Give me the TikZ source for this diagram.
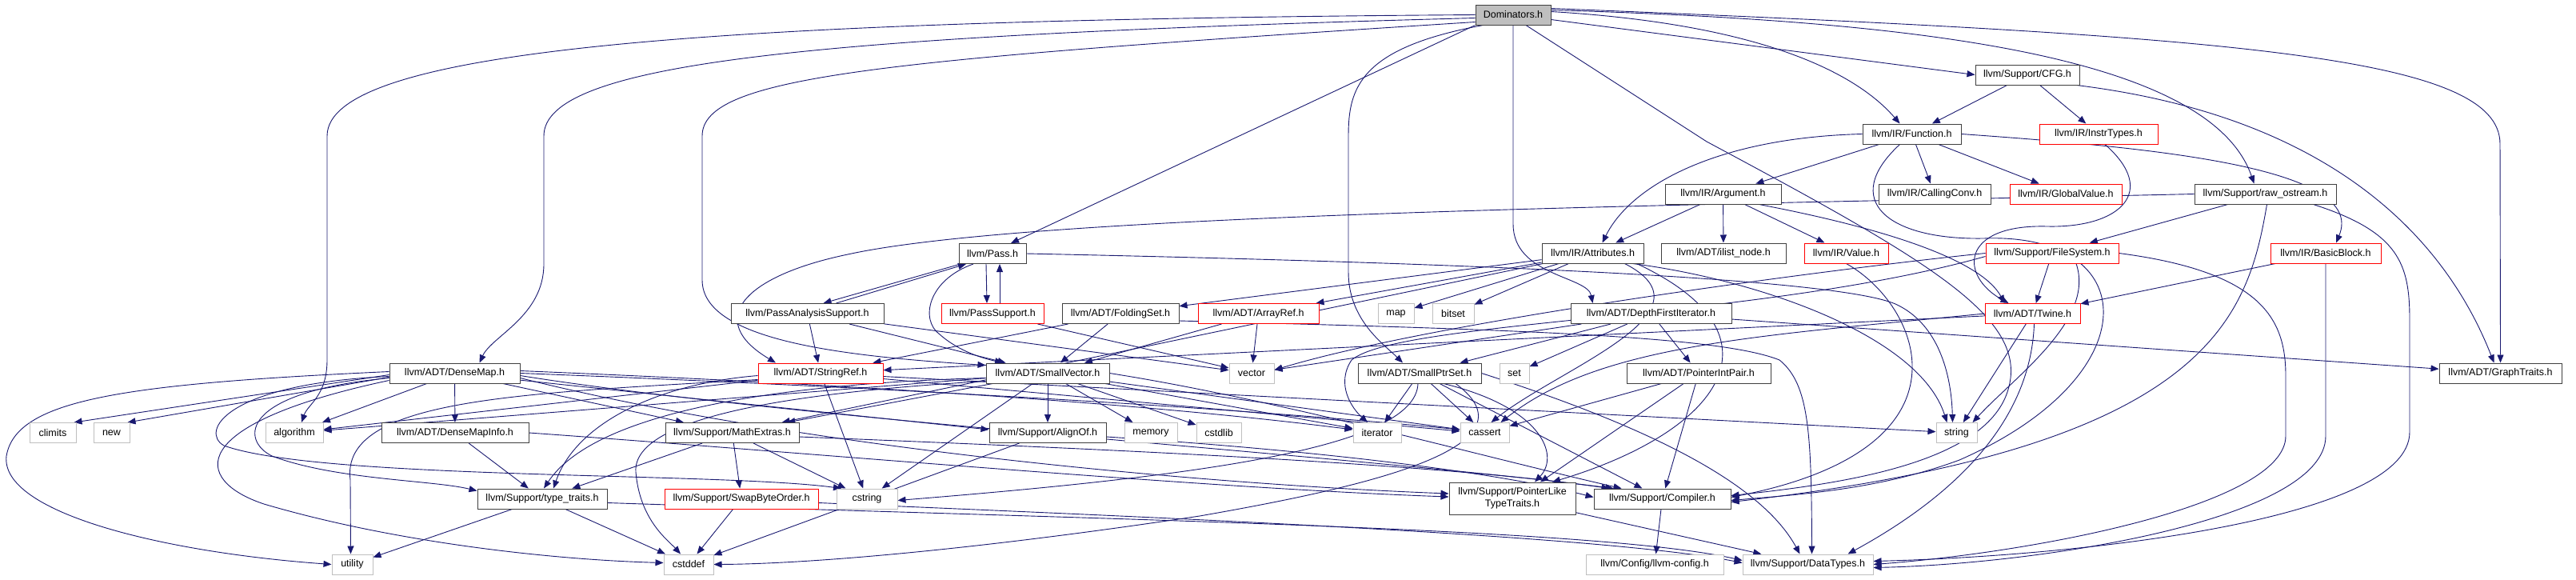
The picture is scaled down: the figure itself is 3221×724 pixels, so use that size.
\documentclass[tikz,border=0pt]{standalone}
\usepackage{fontspec}
\setmainfont{Liberation Sans}
\usetikzlibrary{arrows.meta,backgrounds}
\definecolor{incblue}{RGB}{25,25,112}
\definecolor{boxgray}{RGB}{64,64,64}
\definecolor{sysgray}{RGB}{191,191,191}
\begin{document}
\begin{tikzpicture}[x=1pt, y=-1pt,
  >={Triangle[length=10pt,width=8pt]},
  font=\fontsize{12.5}{15}\selectfont,
  hdr/.style={draw=boxgray, line width=1pt, fill=white, minimum height=25pt, minimum width=#1pt, inner xsep=3pt, inner ysep=1pt},
  part/.style={hdr=#1, draw=red},
  std/.style={hdr=#1, draw=sysgray},
  inc/.style={->, draw=incblue, line width=0.9pt}]
\useasboundingbox (0,0) rectangle (3221,724);
% root and upper rows
\node[hdr=94, fill=sysgray] (dom) at (1892,18.5) {Dominators.h};
\node[hdr=130] (cfg) at (2535,93.5) {llvm/Support/CFG.h};
\node[hdr=123] (func) at (2390.5,167.5) {llvm/IR/Function.h};
\node[part=148] (instr) at (2624,167.5) {llvm/IR/InstrTypes.h};
\node[hdr=145] (arg) at (2154.5,242.5) {llvm/IR/Argument.h};
\node[hdr=140] (cconv) at (2419,242.5) {llvm/IR/CallingConv.h};
\node[part=140] (gval) at (2583,242.5) {llvm/IR/GlobalValue.h};
\node[hdr=177] (rawos) at (2832.5,242.5) {llvm/Support/raw\_ostream.h};
\node[hdr=84] (pass) at (1241,317) {llvm/Pass.h};
\node[hdr=127] (attr) at (1991.5,316.5) {llvm/IR/Attributes.h};
\node[hdr=156] (ilist) at (2155,316.5) {llvm/ADT/ilist\_node.h};
\node[part=105] (value) at (2308.5,316.5) {llvm/IR/Value.h};
\node[part=166] (fsys) at (2566,316.5) {llvm/Support/FileSystem.h};
\node[part=138] (bblock) at (2908,316.5) {llvm/IR/BasicBlock.h};
% middle row
\node[hdr=191] (pas) at (1009.5,392) {llvm/PassAnalysisSupport.h};
\node[part=128] (psup) at (1241,392) {llvm/PassSupport.h};
\node[hdr=146] (fold) at (1401,392) {llvm/ADT/FoldingSet.h};
\node[part=151] (aref) at (1573.5,392) {llvm/ADT/ArrayRef.h};
\node[std=45] (map) at (1745.5,392) {map};
\node[std=52] (bitset) at (1817,392) {bitset};
\node[hdr=201] (dfi) at (2064.5,392) {llvm/ADT/DepthFirstIterator.h};
\node[part=119] (twine) at (2541.5,392) {llvm/ADT/Twine.h};
\node[hdr=163] (dmap) at (568.5,466.5) {llvm/ADT/DenseMap.h};
\node[part=156] (sref) at (1026,466.5) {llvm/ADT/StringRef.h};
\node[hdr=154] (svec) at (1310,466.5) {llvm/ADT/SmallVector.h};
\node[std=56] (vector) at (1565,466.5) {vector};
\node[hdr=154] (sptr) at (1775,466.5) {llvm/ADT/SmallPtrSet.h};
\node[std=37] (set) at (1893.5,466.5) {set};
\node[hdr=180] (pip) at (2124,466.5) {llvm/ADT/PointerIntPair.h};
\node[hdr=153] (gtraits) at (3126.5,466.5) {llvm/ADT/GraphTraits.h};
% lower rows
\node[std=58] (climits) at (66,541) {climits};
\node[std=45] (new) at (139.5,541) {new};
\node[std=72] (algorithm) at (368,541) {algorithm};
\node[hdr=184] (dmi) at (569,541) {llvm/ADT/DenseMapInfo.h};
\node[hdr=167] (math) at (915.5,541) {llvm/Support/MathExtras.h};
\node[hdr=146] (align) at (1310,541) {llvm/Support/AlignOf.h};
\node[std=66] (memory) at (1439,541) {memory};
\node[std=56] (cstdlib) at (1524,541) {cstdlib};
\node[std=60] (iterator) at (1722,541) {iterator};
\node[std=61] (cassert) at (1856.5,541) {cassert};
\node[std=51] (string) at (2446.5,541) {string};
\node[hdr=162] (ttraits) at (678,623.5) {llvm/Support/type\_traits.h};
\node[part=192] (swap) at (927,623.5) {llvm/Support/SwapByteOrder.h};
\node[std=76] (cstring) at (1084,623.5) {cstring};
\node[hdr=158, minimum height=40pt, align=center] (pltt) at (1891,623) {llvm/Support/PointerLike\\TypeTraits.h};
\node[hdr=171] (compiler) at (2078.5,623.5) {llvm/Support/Compiler.h};
\node[std=51] (utility) at (440.5,705.5) {utility};
\node[std=62] (cstddef) at (861,705.5) {cstddef};
\node[std=172] (config) at (2069,705.5) {llvm/Config/llvm-config.h};
\node[std=163] (dtypes) at (2260.5,705.5) {llvm/Support/DataTypes.h};
\begin{scope}[on background layer]
% Dominators.h
\draw[inc] (dom.west) .. controls (900,25) and (409,60) .. (409,170) -- (409,450) .. controls (409,495) and (385,505) .. ([xshift=9pt]algorithm.north);
\draw[inc] ([yshift=-4pt]dom.west) .. controls (1000,45) and (680,80) .. (680,170) -- (680,330) .. controls (680,395) and (615,420) .. ([xshift=31pt]dmap.north);
\draw[inc] ([yshift=-9pt]dom.west) .. controls (1100,75) and (878,95) .. (878,170) -- (878,350) .. controls (878,425) and (1050,445) .. ([yshift=-3pt]svec.north west);
\draw[inc] (dom.south west) -- ([xshift=23pt]pass.north);
\draw[inc] ([xshift=10pt]dom.south west) .. controls (1700,60) and (1686,110) .. (1686,170) -- (1686,340) .. controls (1686,400) and (1730,430) .. ([xshift=-21pt]sptr.north);
\draw[inc] (dom.south) -- (1892,280) .. controls (1892,345) and (1985,345) .. ([xshift=-73pt]dfi.north);
\draw[inc] ([xshift=16pt]dom.south) -- (2134,177) .. controls (2420,330) and (2540,400) .. (2510,490) .. controls (2480,580) and (2300,605) .. ([yshift=4pt]compiler.east);
\draw[inc] ([yshift=4pt]dom.east) .. controls (2200,30) and (2320,90) .. ([xshift=-15pt]func.north);
\draw[inc] ([yshift=-6pt]dom.east) -- (cfg.west);
\draw[inc] ([yshift=6pt]dom.east) .. controls (2350,25) and (2760,60) .. ([xshift=-14pt]rawos.north);
\draw[inc] ([yshift=8pt]dom.east) .. controls (2800,45) and (3126,70) .. (3126,180) -- (gtraits.north);
% CFG.h and InstrTypes.h
\draw[inc] (cfg) -- (func); \draw[inc] (cfg) -- (instr);
\draw[inc] ([xshift=-4pt]cfg.south east) .. controls (2950,150) and (3070,330) .. ([xshift=-8pt]gtraits.north);
\draw[inc] ([xshift=8pt]instr.south) .. controls (2700,240) and (2650,285) .. (2560,283) .. controls (2450,280) and (2450,345) .. ([xshift=-30pt]twine.north);
% Function.h
\draw[inc] (func) -- (arg); \draw[inc] (func) -- (cconv); \draw[inc] (func) -- (gval);
\draw[inc] (func.west) .. controls (2150,172) and (2040,230) .. ([xshift=12pt]attr.north);
\draw[inc] (func.east) .. controls (2700,185) and (2960,210) .. ([xshift=13pt]bblock.north);
\draw[inc] ([xshift=-15pt]func.south) .. controls (2300,250) and (2360,300) .. (2480,298) .. controls (2680,290) and (2690,470) .. (2450,575) .. controls (2350,612) and (2250,618) .. ([yshift=-2pt]compiler.east);
% Argument.h
\draw[inc] (arg) -- (attr); \draw[inc] (arg) -- (ilist); \draw[inc] (arg) -- (value);
\draw[inc] ([xshift=45pt]arg.south) .. controls (2380,290) and (2480,330) .. ([xshift=-35pt]twine.north);
% raw_ostream.h
\draw[inc] (rawos) -- (fsys);
\draw[inc] (rawos.west) .. controls (2200,255) and (1300,265) .. (1060,318) .. controls (930,345) and (880,400) .. ([xshift=-56pt]sref.north);
\draw[inc] ([xshift=2pt]rawos.south) .. controls (2810,400) and (2760,560) .. ([yshift=-4pt]compiler.east);
\draw[inc] ([xshift=60pt]rawos.south) .. controls (3000,290) and (3013,330) .. (3013,400) -- (3013,540) .. controls (3013,650) and (2600,695) .. ([yshift=4pt]dtypes.east);
% Attributes.h
\draw[inc] (attr) -- (fold); \draw[inc] (attr) -- (aref); \draw[inc] (attr) -- (map); \draw[inc] (attr) -- (bitset);
\draw[inc] (attr) -- (math);
\draw[inc] ([xshift=50pt]attr.south) .. controls (2200,350) and (2400,420) .. ([xshift=-12pt]string.north);
\draw[inc] ([xshift=40pt]attr.south) .. controls (2150,390) and (1950,460) .. ([xshift=8pt]cassert.north);
\draw[inc] ([xshift=55pt]attr.south) .. controls (2240,420) and (2150,540) .. ([xshift=50pt]pltt.north);
% Value.h, FileSystem.h, BasicBlock.h
\draw[inc] (value.south) .. controls (2400,380) and (2480,560) .. ([yshift=2pt]compiler.east);
\draw[inc] (fsys) -- (twine);
\draw[inc] ([xshift=30pt]fsys.south) .. controls (2620,400) and (2520,470) .. ([xshift=20pt]string.north);
\draw[inc] (fsys.west) .. controls (2300,335) and (1800,400) .. ([yshift=4pt]vector.east);
\draw[inc] ([yshift=-4pt]fsys.west) .. controls (2200,400) and (1750,400) .. (1690,450) .. controls (1670,480) and (1690,510) .. ([xshift=-12pt]iterator.north);
\draw[inc] (fsys.east) .. controls (2830,340) and (2858,400) .. (2858,470) -- (2858,545) .. controls (2858,630) and (2550,690) .. (dtypes.east);
\draw[inc] (bblock) -- (twine);
\draw[inc] (bblock.south) -- (2908,545) .. controls (2908,650) and (2550,705) .. ([yshift=-4pt]dtypes.east);
% Pass.h and its support headers
\draw[inc] ([xshift=-8pt]pass.south) -- ([xshift=-7pt]psup.north);
\draw[inc] ([xshift=9pt]psup.north) -- ([xshift=9pt]pass.south);
\draw[inc] ([xshift=-40pt]pass.south) -- ([xshift=20pt]pas.north);
\draw[inc] ([xshift=36pt]pas.north) -- ([xshift=-33pt]pass.south);
\draw[inc] (pass.east) .. controls (1900,330) and (2300,350) .. (2370,380) .. controls (2425,405) and (2440,470) .. ([xshift=-5pt]string.north);
\draw[inc] ([xshift=-24pt]pass.south) .. controls (1160,350) and (1150,400) .. (1175,418) .. controls (1200,440) and (1230,448) .. ([xshift=-56pt]svec.north);
\draw[inc] (psup) -- (vector);
\draw[inc] (pas) -- (sref); \draw[inc] (pas) -- (svec); \draw[inc] (pas) -- (vector);
% FoldingSet.h, ArrayRef.h, DepthFirstIterator.h, Twine.h
\draw[inc] (fold) -- (svec); \draw[inc] (fold) -- (sref);
\draw[inc] ([yshift=-9pt]fold.east) .. controls (1900,412) and (2150,420) .. (2225,450) .. controls (2262,480) and (2265,540) .. ([xshift=5pt]dtypes.north);
\draw[inc] (aref) -- (svec); \draw[inc] (aref) -- (vector);
\draw[inc] (dfi) -- (gtraits); \draw[inc] (dfi) -- (pip); \draw[inc] (dfi) -- (sptr); \draw[inc] (dfi) -- (set); \draw[inc] (dfi) -- (vector);
\draw[inc] (twine) -- (string); \draw[inc] (twine) -- (sref);
\draw[inc] (twine.west) .. controls (2200,420) and (2000,430) .. ([xshift=20pt]cassert.north);
\draw[inc] ([xshift=2pt]twine.south) .. controls (2540,500) and (2480,600) .. ([xshift=50pt]dtypes.north);
% DenseMap.h
\draw[inc] (dmap) -- (dmi); \draw[inc] (dmap) -- (algorithm); \draw[inc] (dmap) -- (math);
\draw[inc] ([yshift=-2pt]dmap.west) -- ([xshift=-3pt]climits.north east);
\draw[inc] ([yshift=-5pt]dmap.west) -- ([xshift=-3pt]new.north east);
\draw[inc] (dmap) -- ([yshift=4pt]align.west);
\draw[inc] ([yshift=-3pt]dmap.east) .. controls (1000,525) and (1700,570) .. ([xshift=25pt]compiler.north west);
\draw[inc] ([yshift=-6pt]dmap.east) .. controls (1000,560) and (1500,605) .. ([yshift=6pt]pltt.west);
\draw[inc] (dmap.east) .. controls (1000,480) and (1500,505) .. ([yshift=4pt]cassert.west);
\draw[inc] ([yshift=3pt]dmap.east) .. controls (1000,478) and (1400,500) .. ([yshift=4pt]iterator.west);
\draw[inc] ([yshift=-4pt]dmap.west) .. controls (280,480) and (250,540) .. (280,557) .. controls (400,600) and (900,590) .. ([xshift=-32pt]cstring.north);
\draw[inc] ([yshift=-6pt]dmap.west) .. controls (300,490) and (300,550) .. (340,570) .. controls (420,600) and (540,600) .. ([yshift=10pt]ttraits.west);
\draw[inc] ([yshift=-9pt]dmap.west) .. controls (230,530) and (240,600) .. (330,630) .. controls (500,680) and (700,700) .. ([yshift=2pt]cstddef.west);
\draw[inc] ([yshift=2pt]dmap.west) .. controls (150,480) and (20,500) .. (8,570) .. controls (0,640) and (200,690) .. (utility.west);
\draw[inc] (dmi) -- (ttraits);
\draw[inc] (dmi.east) .. controls (1000,565) and (1500,610) .. ([yshift=2pt]pltt.west);
% StringRef.h
\draw[inc] (sref) -- (cstring); \draw[inc] (sref) -- (algorithm); \draw[inc] (sref) -- ([yshift=2pt]cassert.west); \draw[inc] (sref) -- (string);
\draw[inc] ([yshift=-3pt]sref.west) .. controls (820,480) and (720,530) .. ([xshift=14pt]ttraits.north);
\draw[inc] ([yshift=-8pt]sref.west) .. controls (650,492) and (425,498) .. (438,600) -- ([xshift=-2pt]utility.north);
% SmallVector.h
\draw[inc] (svec) -- (align); \draw[inc] (svec) -- (memory); \draw[inc] (svec) -- (cstdlib); \draw[inc] (svec) -- (cstring);
\draw[inc] (svec) -- (math); \draw[inc] (svec) -- (algorithm); \draw[inc] (svec) -- (cassert); \draw[inc] (svec) -- (iterator);
\draw[inc] ([yshift=-6pt]svec.west) .. controls (950,480) and (740,520) .. ([xshift=2pt]ttraits.north);
\draw[inc] ([yshift=-10pt]svec.west) .. controls (1000,490) and (790,520) .. (795,590) .. controls (800,650) and (835,675) .. ([xshift=-10pt]cstddef.north);
\draw[inc] (svec.east) .. controls (1600,500) and (1850,570) .. ([xshift=35pt]compiler.north west);
% SmallPtrSet.h, PointerIntPair.h
\draw[inc] (sptr) -- (iterator); \draw[inc] (sptr) -- (cassert); \draw[inc] (sptr) -- (compiler);
\draw[inc] ([xshift=30pt]sptr.south) .. controls (1930,510) and (1950,570) .. ([xshift=28pt]pltt.north);
\draw[inc] ([xshift=-2pt]sptr.south) .. controls (1770,560) and (1500,595) .. ([yshift=-2pt]cstring.east);
\draw[inc] ([xshift=45pt]sptr.south) .. controls (1930,560) and (1700,610) .. (1500,645) .. controls (1200,690) and (1000,705) .. (cstddef.east);
\draw[inc] (sptr.east) .. controls (2050,530) and (2200,600) .. ([xshift=-10pt]dtypes.north);
\draw[inc] (pip) -- ([xshift=35pt]pltt.north); \draw[inc] (pip) -- (compiler); \draw[inc] (pip) -- (cassert);
% support headers
\draw[inc] (math) -- (swap); \draw[inc] (math) -- (ttraits); \draw[inc] (math) -- (cstring);
\draw[inc] ([yshift=-5pt]math.east) .. controls (1400,562) and (1800,580) .. ([xshift=20pt]compiler.north west);
\draw[inc] (align) -- (cstddef);
\draw[inc] ([yshift=-5pt]align.east) .. controls (1600,560) and (1850,585) .. ([yshift=2pt]compiler.west);
\draw[inc] (ttraits) -- (cstddef); \draw[inc] (ttraits) -- (utility);
\draw[inc] ([yshift=-5pt]ttraits.east) .. controls (1400,650) and (2000,660) .. ([yshift=5pt]dtypes.west);
\draw[inc] (swap) -- (cstddef);
\draw[inc] ([yshift=-5pt]swap.east) .. controls (1400,645) and (2000,668) .. ([yshift=2pt]dtypes.west);
\draw[inc] (pltt) -- (dtypes);
\draw[inc] (compiler) -- (config);
\end{scope}
\end{tikzpicture}
\end{document}
